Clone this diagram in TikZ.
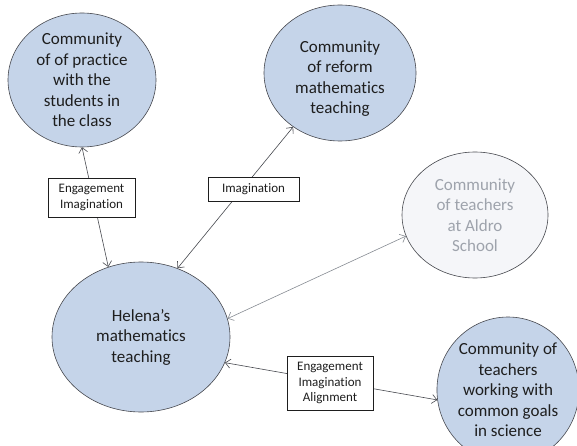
\documentclass[tikz,border=0pt]{standalone}
\usepackage{fontspec}
\setmainfont{Carlito}[Ligatures={NoCommon,NoRare}]
\usetikzlibrary{shapes.geometric,arrows.meta}
\definecolor{ellfill}{RGB}{197,212,233}
\definecolor{ellline}{RGB}{70,72,78}
\definecolor{greyfill}{RGB}{245,246,249}
\definecolor{greytext}{RGB}{158,163,172}
\definecolor{txt}{RGB}{30,30,30}
\tikzset{
  comm/.style={ellipse, draw=ellline, line width=0.6pt, fill=ellfill, inner sep=0pt,
    align=center, text=txt, font=\fontsize{17}{20.5}\selectfont},
  greycomm/.style={comm, fill=greyfill, text=greytext},
  labelbox/.style={draw=txt, line width=0.6pt, fill=white, inner sep=0pt, align=center,
    text=txt, font=\fontsize{13}{15.8}\selectfont},
  link/.style={draw=ellline, line width=0.6pt,
    {Straight Barb[length=5pt,width=9pt]}-{Straight Barb[length=5pt,width=9pt]}},
  greylink/.style={link, draw=greytext!85!black},
}
\begin{document}
\begin{tikzpicture}[x=1pt,y=-1pt]
\useasboundingbox (0,0) rectangle (577,446);
\node[comm, minimum width=148pt, minimum height=134pt] (e1) at (82,80)
  {Community\\of of practice\\with the\\students in\\the class};
\node[comm, minimum width=152pt, minimum height=136pt] (e2) at (340,73)
  {\raisebox{-6pt}[\height][\depth]{\begin{tabular}{@{}c@{}}Community\\of reform\\mathematics\\teaching\end{tabular}}};
\node[greycomm, minimum width=146pt, minimum height=126pt] (e3) at (475,215)
  {Community\\of teachers\\at Aldro\\School};
\node[comm, minimum width=178pt, minimum height=150pt] (h) at (141,337)
  {Helena’s\\mathematics\\teaching};
\node[comm, minimum width=140pt, minimum height=146pt] (e4) at (508,390)
  {Community of\\teachers\\working with\\common goals\\in science};

\draw[link] (e1.270) -- (h.115);
\draw[link] (e2.229.5) -- (h.62.8);
\draw[greylink] (e3.197) -- (h.12.7);
\draw[link] (h.-17) -- (e4.188.6);

\node[labelbox, minimum width=87pt, minimum height=39pt] (b1) at (91.5,197.5)
  {Engagement\\Imagination};
\node[labelbox, minimum width=91pt, minimum height=24pt] (b2) at (253.5,189)
  {Imagination};
\node[labelbox, minimum width=86pt, minimum height=54pt] (b3) at (330,383)
  {Engagement\\Imagination\\Alignment};
\end{tikzpicture}
\end{document}
